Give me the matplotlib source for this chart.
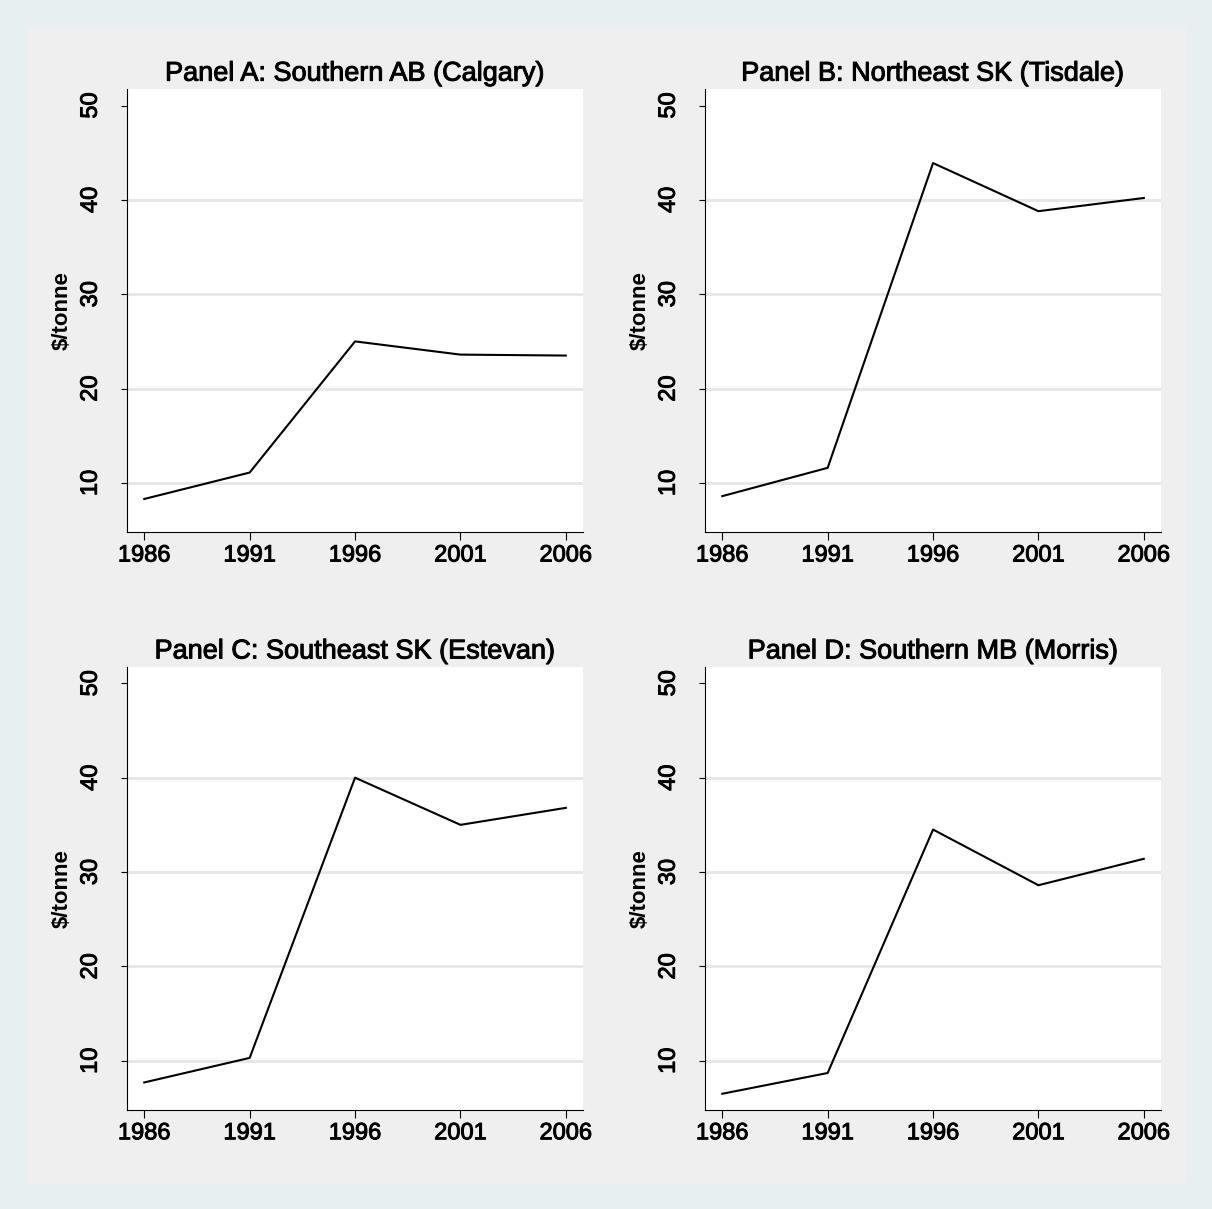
import matplotlib
matplotlib.use("Agg")
import matplotlib.pyplot as plt
import matplotlib.patheffects as pe
from matplotlib.patches import Rectangle

# data ($/tonne)
years = [1986, 1991, 1996, 2001, 2006]
calgary = [8.3, 11.1, 25.0, 23.6, 23.5]
tisdale = [8.6, 11.6, 43.9, 38.8, 40.2]
estevan = [7.7, 10.3, 40.0, 35.0, 36.8]
morris = [6.5, 8.7, 34.5, 28.6, 31.4]

titles = ["Panel A: Southern AB (Calgary)", "Panel B: Northeast SK (Tisdale)",
          "Panel C: Southeast SK (Estevan)", "Panel D: Southern MB (Morris)"]
series = [calgary, tisdale, estevan, morris]
y_ticks = [10, 20, 30, 40, 50]

plt.rcParams['font.family'] = ['Liberation Sans', 'DejaVu Sans']

# Stata-ish heavier text rendering
heavy = [pe.withStroke(linewidth=0.7, foreground='black')]

W, H = 1212, 1209
fig = plt.figure(figsize=(W / 100, H / 100), dpi=100)
fig.patch.set_facecolor('#e7eff1')
fig.patches.append(Rectangle((28 / W, 1 - 1183 / H), 1158 / W, 1156 / H,
                             transform=fig.transFigure, facecolor='#efefef',
                             edgecolor='none', zorder=-10))

# axes boxes in pixels: left, top
boxes = [(127.4, 89), (705.4, 89), (127.4, 666.8), (705.4, 666.8)]
aw, ah = 455.3, 443.0

for (px, py), title, vals in zip(boxes, titles, series):
    ax = fig.add_axes([px / W, 1 - (py + ah) / H, aw / W, ah / H])
    ax.set_facecolor('white')
    ax.plot(years, vals, color='black', lw=1.5, zorder=3)
    ax.set_xlim(1985.2, 2006.8)
    ax.set_ylim(4.8, 51.75)
    ax.set_xticks(years)
    ax.set_yticks(y_ticks)
    ax.grid(axis='y', color='#e6e6e6', lw=2.0, zorder=1)
    ax.get_ygridlines()[-1].set_visible(False)
    ax.set_axisbelow(True)
    for s in ['top', 'right']:
        ax.spines[s].set_visible(False)
    for s in ['left', 'bottom']:
        ax.spines[s].set_linewidth(0.8)
    ax.tick_params(axis='x', length=6, width=0.8, pad=3, labelsize=17)
    ax.tick_params(axis='y', length=4.5, width=0.8, pad=14, labelsize=17,
                   labelrotation=90)
    for lab in ax.get_yticklabels():
        lab.set_va('center')
    for lab in ax.get_xticklabels() + ax.get_yticklabels():
        lab.set_path_effects(heavy)
    ax.set_ylabel("$/tonne", fontsize=16, fontweight='bold', labelpad=5)
    t = ax.set_title(title, fontsize=19.5, pad=6)
    t.set_path_effects(heavy)

fig.savefig("out.png", dpi=100, facecolor=fig.get_facecolor())
